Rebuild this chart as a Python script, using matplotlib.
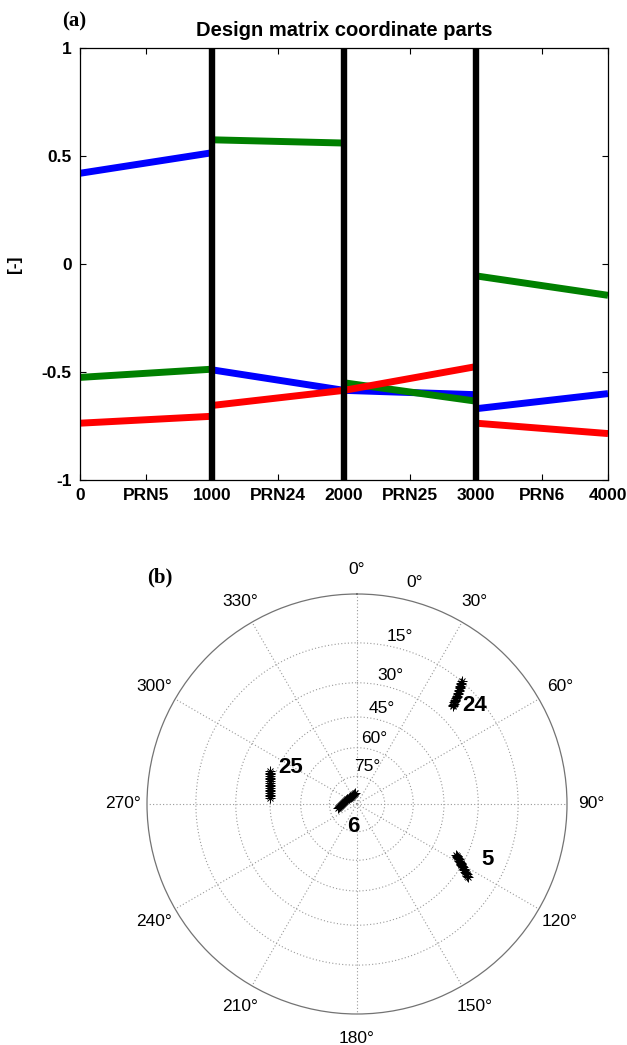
import numpy as np
import matplotlib
matplotlib.use("Agg")
import matplotlib.pyplot as plt

# ---------------- data: panel (a) ----------------
seg_edges = [0, 1000, 2000, 3000, 4000]
blue_start = [0.42, -0.49, -0.585, -0.67]
blue_end = [0.515, -0.585, -0.605, -0.60]
green_start = [-0.525, 0.575, -0.55, -0.055]
green_end = [-0.487, 0.56, -0.635, -0.145]
red_start = [-0.737, -0.655, -0.585, -0.737]
red_end = [-0.705, -0.585, -0.475, -0.785]
sep_lines = [1000, 2000, 3000]
xtick_vals = [0, 500, 1000, 1500, 2000, 2500, 3000, 3500, 4000]
xtick_labels = ["0", "PRN5", "1000", "PRN24", "2000", "PRN25", "3000", "PRN6", "4000"]
ytick_vals = [-1, -0.5, 0, 0.5, 1]
ytick_labels = ["-1", "-0.5", "0", "0.5", "1"]

# ---------------- data: panel (b) skyplot ----------------
prn5_az = [117.3, 117.6, 117.9, 118.3, 118.6, 119.0, 119.3, 119.6, 120.0, 120.3,
           120.6, 121.0, 121.3, 121.7, 122.0, 122.4, 122.7, 123.0, 123.4]
prn5_el = [34.2, 33.7, 33.2, 32.7, 32.2, 31.7, 31.2, 30.9, 30.6, 30.2,
           29.8, 29.2, 28.6, 28.0, 27.4, 26.9, 26.3, 25.8, 25.2]
prn24_az = [40.5, 40.7, 40.9, 41.2, 41.4, 41.6, 41.8, 42.1, 42.3, 42.5,
            42.7, 42.9, 43.1, 43.3, 43.5, 43.8, 44.0, 44.2, 44.4]
prn24_el = [14.9, 15.4, 15.9, 16.4, 16.9, 17.3, 17.8, 18.3, 18.8, 19.3,
            19.8, 20.3, 20.8, 21.3, 21.8, 22.3, 22.8, 23.3, 23.8]
prn25_az = [290.6, 289.7, 288.8, 287.8, 286.9, 285.8, 284.8, 283.7, 282.6,
            281.5, 280.5, 279.4, 278.3, 277.2, 276.1, 275.0, 274.0]
prn25_el = [42.2, 42.5, 42.8, 43.1, 43.3, 43.6, 43.8, 44.0, 44.2,
            44.4, 44.5, 44.6, 44.7, 44.8, 44.8, 44.8, 44.8]
prn6_az = [258.4, 260.5, 263.0, 266.0, 269.2, 273.5, 278.0, 283.0, 288.4,
           296.0, 304.0, 312.0, 320.6, 329.0, 338.0, 345.0, 352.2]
prn6_el = [79.2, 79.9, 80.6, 81.2, 81.8, 82.4, 83.0, 83.5, 83.9,
           84.2, 84.5, 84.7, 84.8, 84.7, 84.5, 84.2, 83.9]
prn_names = ["5", "24", "25", "6"]
label_offsets_pt = [(22.8, -3.6), (8.9, -17.8), (15.1, 2.7), (11.3, -13.2)]
az_ticks = list(range(0, 360, 30))
el_rings = [75, 60, 45, 30, 15]
el_labels = [0, 15, 30, 45, 60, 75]

W, H = 627, 1045
fig = plt.figure(figsize=(W / 100, H / 100), dpi=100)
plt.rcParams['font.family'] = ['Liberation Sans', 'DejaVu Sans']

# ================= panel (a) =================
ax = fig.add_axes([80 / W, 1 - 480 / H, 528 / W, 432 / H])
for i in range(4):
    xs = [seg_edges[i], seg_edges[i + 1]]
    ax.plot(xs, [blue_start[i], blue_end[i]], color=(0, 0, 1), lw=5.0, solid_capstyle='butt')
    ax.plot(xs, [green_start[i], green_end[i]], color=(0, 0.5, 0), lw=5.0, solid_capstyle='butt')
    ax.plot(xs, [red_start[i], red_end[i]], color=(1, 0, 0), lw=5.0, solid_capstyle='butt')
for xv in sep_lines:
    ax.axvline(xv, color='black', lw=4.6, zorder=5)
ax.set_xlim(0, 4000)
ax.set_ylim(-1, 1)
ax.set_xticks(xtick_vals)
ax.set_xticklabels(xtick_labels, fontsize=12.5, fontweight='bold')
ax.set_yticks(ytick_vals)
ax.set_yticklabels(ytick_labels, fontsize=12.5, fontweight='bold')
ax.tick_params(direction='in', length=4, width=0.8, top=True, right=True, pad=6)
for sp in ax.spines.values():
    sp.set_linewidth(0.9)
ax.set_title("Design matrix coordinate parts", fontsize=14.5, fontweight='bold', pad=9)
ax.set_ylabel("[-]", fontsize=12.5, fontweight='bold')
ax.yaxis.set_label_coords(-0.11, 0.5)
fig.text(74 / W, 1 - 21 / H, "(a)", fontsize=15, fontweight='bold',
         family=['Liberation Serif', 'DejaVu Serif'], ha='center', va='center')

# ================= panel (b) =================
def to_r(el):
    return np.tan(np.radians(90 - np.asarray(el, dtype=float)) / 2)

pax = fig.add_axes([147 / W, 1 - 1014 / H, 420 / W, 420 / H], projection='polar')
pax.set_theta_zero_location('N')
pax.set_theta_direction(-1)
pax.set_ylim(0, 1)
pax.set_rgrids(to_r(el_rings), labels=[''] * len(el_rings))
pax.set_thetagrids(az_ticks, labels=[f"{a}\u00b0" for a in az_ticks], fontsize=12.5)
pax.tick_params(axis='x', pad=7)
pax.grid(True, linestyle=(0, (1, 2)), color='0.6', lw=0.8)
pax.spines['polar'].set_color('0.45')
pax.spines['polar'].set_linewidth(0.9)

tracks = [(prn5_az, prn5_el), (prn24_az, prn24_el), (prn25_az, prn25_el), (prn6_az, prn6_el)]
for (az, el), name, off in zip(tracks, prn_names, label_offsets_pt):
    th = np.radians(az)
    rr = to_r(el)
    pax.plot(th, rr, linestyle='none', marker='+', color='black', markersize=7,
             markeredgewidth=0.7)
    pax.plot(th, rr, linestyle='none', marker='x', color='black', markersize=5,
             markeredgewidth=0.7)
    pax.annotate(name, (th[0], rr[0]), xytext=off, textcoords='offset points',
                 fontsize=16, fontweight='bold', ha='center', va='center')

for e in el_labels:
    pax.text(np.radians(14.5), to_r(e) + (0.09 if e == 0 else 0.055), f"{e}\u00b0",
             fontsize=12.5, ha='center', va='center')

fig.text(160 / W, 1 - 577 / H, "(b)", fontsize=15, fontweight='bold',
         family=['Liberation Serif', 'DejaVu Serif'], ha='center', va='center')

fig.savefig("out.png", dpi=100)
